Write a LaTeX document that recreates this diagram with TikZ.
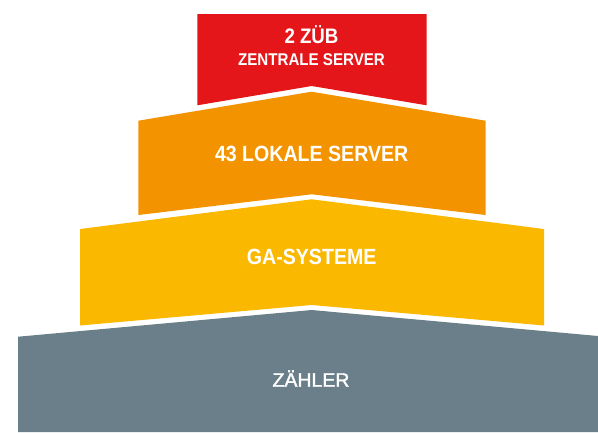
\documentclass[tikz,border=0pt]{standalone}
\usepackage{fontspec}
\setmainfont{Liberation Sans}
\newfontfamily\cnbold[FakeStretch=0.89]{Liberation Sans Bold}
\newfontfamily\cnreg[FakeBold=1.8]{Liberation Sans}
\definecolor{lvred}{RGB}{228,22,25}
\definecolor{lvorange}{RGB}{243,147,0}
\definecolor{lvyellow}{RGB}{250,185,0}
\definecolor{lvgrey}{RGB}{106,127,137}
\tikzset{
  layertext/.style={text=white, anchor=base, inner sep=0pt},
}
\begin{document}
\begin{tikzpicture}[x=1pt,y=-1pt]
\useasboundingbox (0,0) rectangle (598,432);
% layers
\fill[lvred] (197.3,14) -- (426.7,14) -- (426.7,105.3) -- (311.7,86) -- (197.3,105.3) -- cycle;
\fill[lvorange] (138.3,120.7) -- (311.7,91.7) -- (485.7,120.7) -- (485.7,215) -- (311.7,194.3) -- (138.3,215) -- cycle;
\fill[lvyellow] (80,229) -- (311.7,199.3) -- (544,229) -- (544,325.5) -- (311.7,305) -- (80,325.5) -- cycle;
\fill[lvgrey] (18,336.7) -- (311.7,310) -- (598,336) -- (598,432) -- (18,432) -- cycle;
% labels
\node[layertext, font=\cnbold\fontsize{21}{21}\selectfont] (zub) at (311.5,43.3) {2 ZÜB};
\node[layertext, font=\cnbold\fontsize{17}{17}\selectfont] (zentral) at (311.5,65.7) {ZENTRALE SERVER};
\node[layertext, font=\cnbold\fontsize{22}{22}\selectfont] (lokal) at (311.7,161.7) {43 LOKALE SERVER};
\node[layertext, font=\cnbold\fontsize{22}{22}\selectfont] (ga) at (311.7,264) {GA-SYSTEME};
\node[layertext, font=\cnreg\fontsize{19.5}{19.5}\selectfont] (zaehler) at (311,386.7) {ZÄHLER};
\end{tikzpicture}
\end{document}
